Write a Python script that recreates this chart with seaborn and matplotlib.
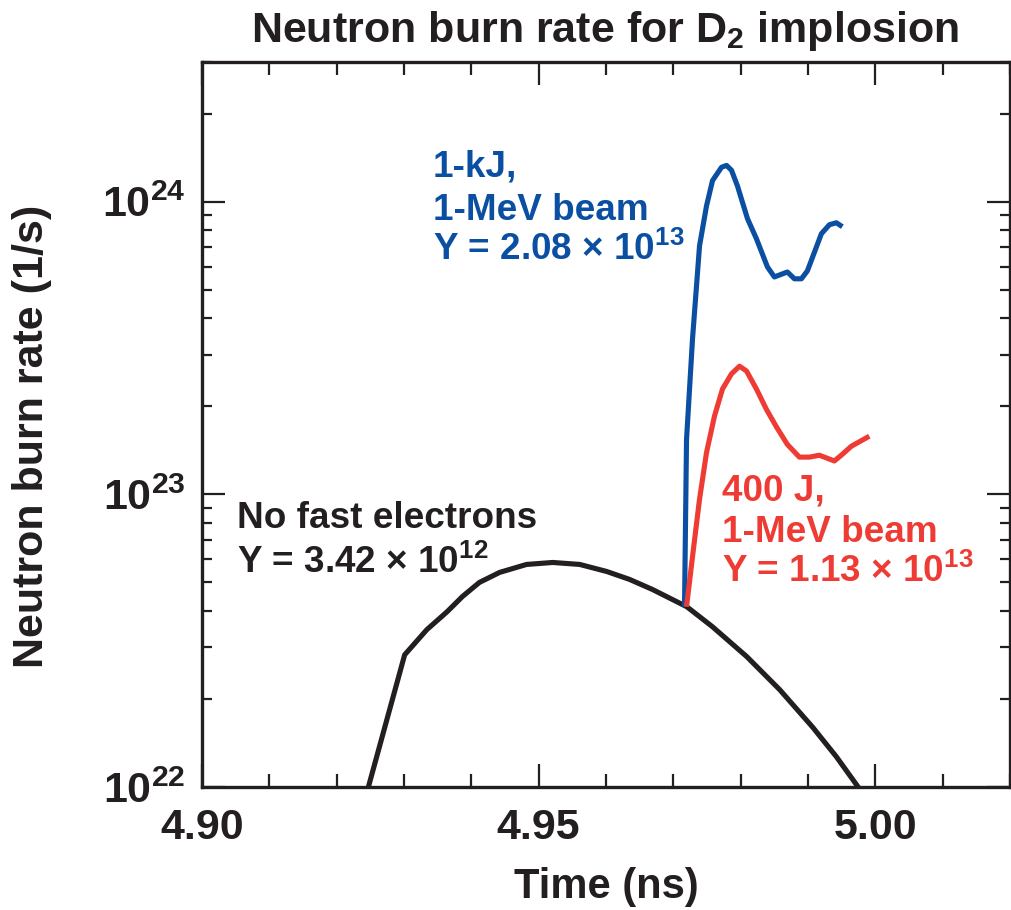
import numpy as np
import pandas as pd
import matplotlib
matplotlib.use("Agg")
import matplotlib.pyplot as plt
import seaborn as sns
from matplotlib.ticker import LogLocator, FixedLocator, MultipleLocator, NullFormatter

# ---- data (time in ns, neutron burn rate in 1/s) ----
t_none = [4.9245, 4.9301, 4.9334, 4.9364, 4.9387, 4.9412, 4.9442, 4.9482, 4.9521, 4.9561,
          4.9601, 4.9635, 4.9669, 4.9720, 4.9758, 4.9809, 4.9858, 4.9907, 4.9942, 4.9980]
r_none = [9.6e21, 2.83e22, 3.45e22, 3.97e22, 4.48e22, 5.0e22, 5.41e22, 5.76e22, 5.85e22, 5.76e22,
          5.45e22, 5.12e22, 4.73e22, 4.13e22, 3.53e22, 2.79e22, 2.15e22, 1.60e22, 1.27e22, 9.6e21]

t_1kj = [4.97166, 4.97196, 4.97285, 4.97389, 4.97493, 4.97582, 4.97715, 4.97790, 4.97864,
         4.97953, 4.98101, 4.98234, 4.98398, 4.98501, 4.98694, 4.98798, 4.98902, 4.98991,
         4.99199, 4.99318, 4.99421, 4.99510]
r_1kj = [4.13e22, 1.54e23, 3.40e23, 7.06e23, 9.68e23, 1.18e24, 1.31e24, 1.33e24, 1.28e24,
         1.13e24, 8.75e23, 7.47e23, 5.98e23, 5.53e23, 5.75e23, 5.45e23, 5.45e23, 5.80e23,
         7.77e23, 8.34e23, 8.47e23, 8.21e23]

t_400j = [4.97196, 4.97285, 4.97389, 4.97493, 4.97611, 4.97730, 4.97864, 4.97982, 4.98086,
          4.98234, 4.98383, 4.98531, 4.98694, 4.98872, 4.99021, 4.99169, 4.99392, 4.99510,
          4.99644, 4.99911]
r_400j = [4.13e22, 6.13e22, 9.62e22, 1.39e23, 1.85e23, 2.29e23, 2.58e23, 2.74e23, 2.64e23,
          2.29e23, 1.95e23, 1.70e23, 1.48e23, 1.34e23, 1.34e23, 1.36e23, 1.30e23, 1.37e23,
          1.46e23, 1.58e23]

x_ticks = [4.90, 4.95, 5.00]
x_ticklabels = ["4.90", "4.95", "5.00"]
y_ticks = [1e22, 1e23, 1e24]
y_ticklabels = ["10$^{22}$", "10$^{23}$", "10$^{24}$"]

BLACK = "#231f20"
BLUE = "#0b4fa2"
RED = "#ee3c35"

sns.set_theme(style="ticks")
FONT = "Liberation Sans"
plt.rcParams["font.family"] = [FONT, "DejaVu Sans"]
plt.rcParams["font.weight"] = "bold"
plt.rcParams["mathtext.fontset"] = "custom"
plt.rcParams["mathtext.rm"] = f"{FONT}:bold"
plt.rcParams["mathtext.it"] = f"{FONT}:bold"
plt.rcParams["mathtext.bf"] = f"{FONT}:bold"
plt.rcParams["mathtext.default"] = "rm"

W, H = 1012, 910
fig = plt.figure(figsize=(W / 100, H / 100), dpi=100)
ax = fig.add_axes([202 / W, 1 - 787 / H, (1010 - 202) / W, (787 - 62) / H])

df_none = pd.DataFrame({"t": t_none, "r": r_none})
df_1kj = pd.DataFrame({"t": t_1kj, "r": r_1kj})
df_400j = pd.DataFrame({"t": t_400j, "r": r_400j})

lw = 3.7
sns.lineplot(data=df_none, x="t", y="r", ax=ax, color=BLACK, lw=lw, sort=False, estimator=None)
sns.lineplot(data=df_1kj, x="t", y="r", ax=ax, color=BLUE, lw=lw, sort=False, estimator=None)
sns.lineplot(data=df_400j, x="t", y="r", ax=ax, color=RED, lw=lw, sort=False, estimator=None)
for ln in ax.lines:
    ln.set_solid_joinstyle("round")
    ln.set_solid_capstyle("butt")

ax.set_yscale("log")
ax.set_xlim(4.90, 5.02)
ax.set_ylim(1e22, 3.0e24)

ax.xaxis.set_major_locator(FixedLocator(x_ticks))
ax.set_xticklabels(x_ticklabels)
ax.xaxis.set_minor_locator(MultipleLocator(0.01))
ax.yaxis.set_major_locator(FixedLocator(y_ticks))
ax.set_yticklabels(y_ticklabels)
ax.yaxis.set_minor_locator(LogLocator(base=10, subs=np.arange(2, 10), numticks=20))
ax.yaxis.set_minor_formatter(NullFormatter())

ax.tick_params(axis="both", which="both", direction="in", top=True, right=True,
               color=BLACK, width=1.6, labelcolor=BLACK)
ax.tick_params(axis="x", which="major", length=16.5, labelsize=31, pad=15)
ax.tick_params(axis="x", which="minor", length=9.5)
ax.tick_params(axis="y", which="major", length=16.5, labelsize=31, pad=12)
ax.tick_params(axis="y", which="minor", length=7.5)
for s in ax.spines.values():
    s.set_linewidth(2.4)
    s.set_color(BLACK)

ax.set_xlabel("Time (ns)", fontsize=30, fontweight="bold", color=BLACK, labelpad=14)
ax.set_ylabel("Neutron burn rate (1/s)", fontsize=31, fontweight="bold", color=BLACK)
ax.yaxis.set_label_coords((52 - 202) / 808, (787 - 436) / 725)

fig.text(605 / W, 1 - 42 / H, "Neutron burn rate for D$_2$ implosion", ha="center",
         va="baseline", fontsize=31, fontweight="bold", color=BLACK)

def ftext(x, y, s, color):
    fig.text(x / W, 1 - y / H, s, ha="left", va="baseline", fontsize=26.6,
             fontweight="bold", color=color)

ftext(237, 528, "No fast electrons", BLACK)
ftext(237, 573, "Y = 3.42 × 10$^{12}$", BLACK)
ftext(433, 177, "1-kJ,", BLUE)
ftext(433, 220, "1-MeV beam", BLUE)
ftext(433, 260, "Y = 2.08 × 10$^{13}$", BLUE)
ftext(722, 500, "400 J,", RED)
ftext(722, 542, "1-MeV beam", RED)
ftext(722, 582, "Y = 1.13 × 10$^{13}$", RED)

fig.savefig("out.png", dpi=100)
